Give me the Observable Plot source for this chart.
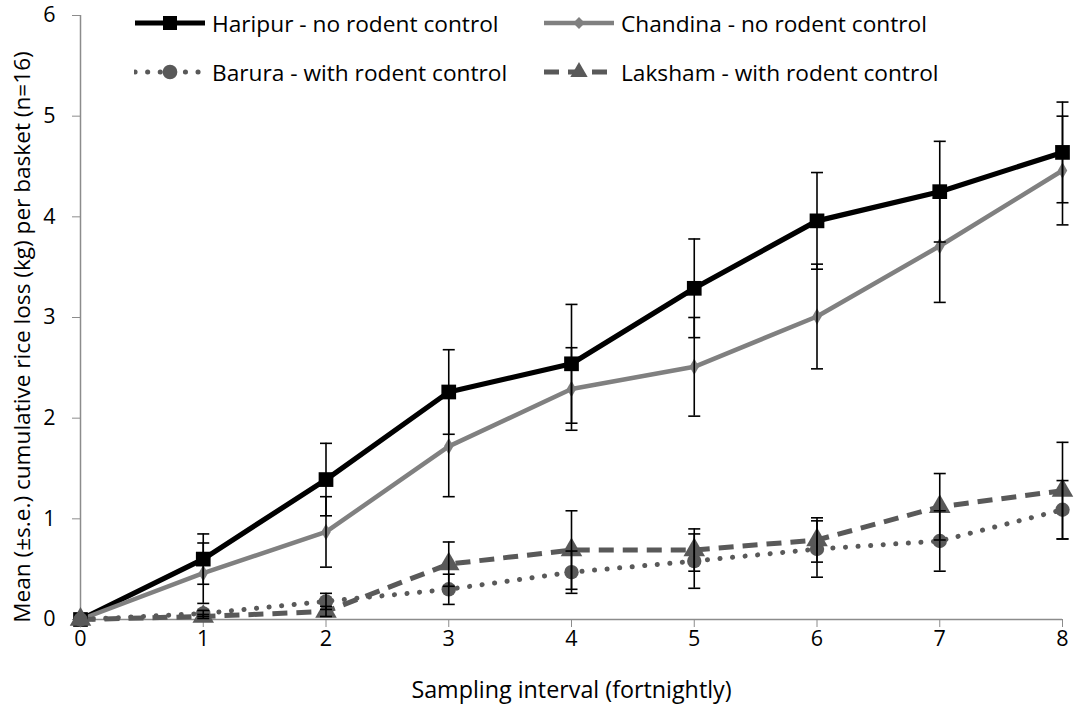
<!DOCTYPE html>
<html>
<head>
<meta charset="utf-8">
<script src="https://cdn.jsdelivr.net/npm/d3@7"></script>
<script src="https://cdn.jsdelivr.net/npm/@observablehq/plot@0.6"></script>
<style>
  html, body { margin: 0; padding: 0; background: #fff; }
  #wrap { position: relative; width: 1074px; height: 713px; font-family: "Open Sans", Lato, sans-serif; }
  .leg { position: absolute; display: flex; align-items: center; font-size: 22.7px; color: #000; white-space: nowrap; }
  .leg svg { margin-right: 6px; }
  #ytitle { position: absolute; left: 22px; top: 337px; transform: translate(-50%, -50%) rotate(-90deg);
    font-size: 22.6px; white-space: nowrap; color: #000; line-height: 1; }
</style>
</head>
<body>
<div id="wrap"></div>
<script>
const intervals = [0, 1, 2, 3, 4, 5, 6, 7, 8];
const seriesNames = [
  "Haripur - no rodent control",
  "Chandina - no rodent control",
  "Barura - with rodent control",
  "Laksham - with rodent control"
];
const xTitle = "Sampling interval (fortnightly)";
const yTitle = "Mean (±s.e.) cumulative rice loss (kg) per basket (n=16)";
const haripur    = [0, 0.60, 1.39, 2.26, 2.54, 3.29, 3.96, 4.25, 4.64];
const haripurSE  = [0, 0.25, 0.36, 0.42, 0.59, 0.49, 0.48, 0.50, 0.50];
const chandina   = [0, 0.46, 0.87, 1.72, 2.29, 2.51, 3.01, 3.71, 4.46];
const chandinaSE = [0, 0.30, 0.35, 0.50, 0.41, 0.49, 0.52, 0.56, 0.54];
const barura     = [0, 0.06, 0.18, 0.30, 0.47, 0.58, 0.70, 0.78, 1.09];
const baruraSE   = [0, 0.03, 0.08, 0.15, 0.21, 0.27, 0.28, 0.30, 0.29];
const laksham    = [0, 0.03, 0.08, 0.55, 0.69, 0.69, 0.79, 1.12, 1.28];
const lakshamSE  = [0, 0.02, 0.05, 0.22, 0.39, 0.21, 0.22, 0.33, 0.48];
const yTicks = [0, 1, 2, 3, 4, 5, 6];

const styles = [
  {color: "#000000", width: 5.2, dash: null, cap: "butt", symbol: "square", r: 8.3},
  {color: "#808080", width: 4.5, dash: null, cap: "butt", symbol: "diamond", r: 5},
  {color: "#595959", width: 5, dash: "0.1 12.5", cap: "round", symbol: "circle", r: 7.2},
  {color: "#595959", width: 5, dash: "15 9", cap: "butt", symbol: "triangle", r: 8}
];
const values = [haripur, chandina, barura, laksham];
const ses = [haripurSE, chandinaSE, baruraSE, lakshamSE];

const tables = values.map((vals, s) => intervals.map((x, i) => ({
  series: seriesNames[s], x, y: vals[i], lo: vals[i] - ses[s][i], hi: vals[i] + ses[s][i], se: ses[s][i]
})));
const errRows = tables.flat().filter(d => d.se > 0);

const capSymbol = {
  draw(context, size) {
    const r = Math.sqrt(size / Math.PI);
    context.moveTo(-r, 0);
    context.lineTo(r, 0);
  }
};

const marks = [
  Plot.ruleX([0], {stroke: "#8c8c8c", strokeWidth: 1.5}),
  Plot.ruleY([0], {stroke: "#8c8c8c", strokeWidth: 1.5}),
  Plot.axisX({ticks: intervals, tickFormat: d3.format("d"), tickSize: 8, tickPadding: 3, stroke: "#8c8c8c", fontSize: 21.5, label: null}),
  Plot.axisX({ticks: [], label: xTitle, labelAnchor: "center", labelArrow: "none", labelOffset: 78, fontSize: 23.3}),
  Plot.axisY({ticks: yTicks, tickFormat: d3.format("d"), tickSize: 8, tickPadding: 17, stroke: "#8c8c8c", fontSize: 21.5, label: null})
];
tables.forEach((t, s) => {
  const st = styles[s];
  marks.push(Plot.line(t, {x: "x", y: "y", stroke: st.color, strokeWidth: st.width,
    strokeDasharray: st.dash, strokeLinecap: st.cap, strokeLinejoin: "round"}));
});
tables.forEach((t, s) => {
  const st = styles[s];
  marks.push(Plot.dot(t, {x: "x", y: "y", symbol: st.symbol, r: st.r, fill: st.color, stroke: "none"}));
});
marks.push(Plot.ruleX(errRows, {x: "x", y1: "lo", y2: "hi", stroke: "#000", strokeWidth: 1.6}));
marks.push(Plot.dot(errRows, {x: "x", y: "lo", symbol: capSymbol, r: 6, stroke: "#000", strokeWidth: 1.6, fill: "none"}));
marks.push(Plot.dot(errRows, {x: "x", y: "hi", symbol: capSymbol, r: 6, stroke: "#000", strokeWidth: 1.6, fill: "none"}));

const chart = Plot.plot({
  width: 1074,
  height: 713,
  marginLeft: 80,
  marginRight: 12,
  marginTop: 15,
  marginBottom: 94,
  x: {domain: [0, 8]},
  y: {domain: [0, 6]},
  style: {fontFamily: "'Open Sans', Lato, sans-serif", fontSize: "21.5px", color: "#000", background: "#fff"},
  marks
});
const wrap = document.getElementById("wrap");
wrap.appendChild(chart);

const yt = document.createElement("div");
yt.id = "ytitle";
yt.textContent = yTitle;
wrap.appendChild(yt);

// Legend
const legendPos = [
  {left: 134, top: 23, w: 72},
  {left: 543, top: 23, w: 72},
  {left: 134, top: 72, w: 72},
  {left: 543, top: 72, w: 72}
];
const symPaths = {
  square: d3.symbol(d3.symbolSquare, 196)(),
  diamond: d3.symbol(d3.symbolSquare, 70)(),
  circle: d3.symbol(d3.symbolCircle, 170)(),
  triangle: d3.symbol(d3.symbolTriangle, 130)()
};
seriesNames.forEach((name, s) => {
  const st = styles[s];
  const p = legendPos[s];
  const div = document.createElement("div");
  div.className = "leg";
  div.style.left = p.left + "px";
  div.style.top = (p.top - 15) + "px";
  div.style.height = "30px";
  const cx = p.w / 2;
  const tr = st.symbol === "diamond" ? `translate(${cx},15) rotate(45)` : `translate(${cx},15)`;
  div.innerHTML = `<svg width="${p.w}" height="30">
    <line x1="1" x2="${p.w - 1}" y1="15" y2="15" stroke="${st.color}" stroke-width="${st.width}" ${st.dash ? `stroke-dasharray="${st.dash}"` : ""} stroke-linecap="${st.cap}"/>
    <path d="${symPaths[st.symbol]}" fill="${st.color}" transform="${tr}"/>
  </svg><span>${name}</span>`;
  wrap.appendChild(div);
});
</script>
</body>
</html>
